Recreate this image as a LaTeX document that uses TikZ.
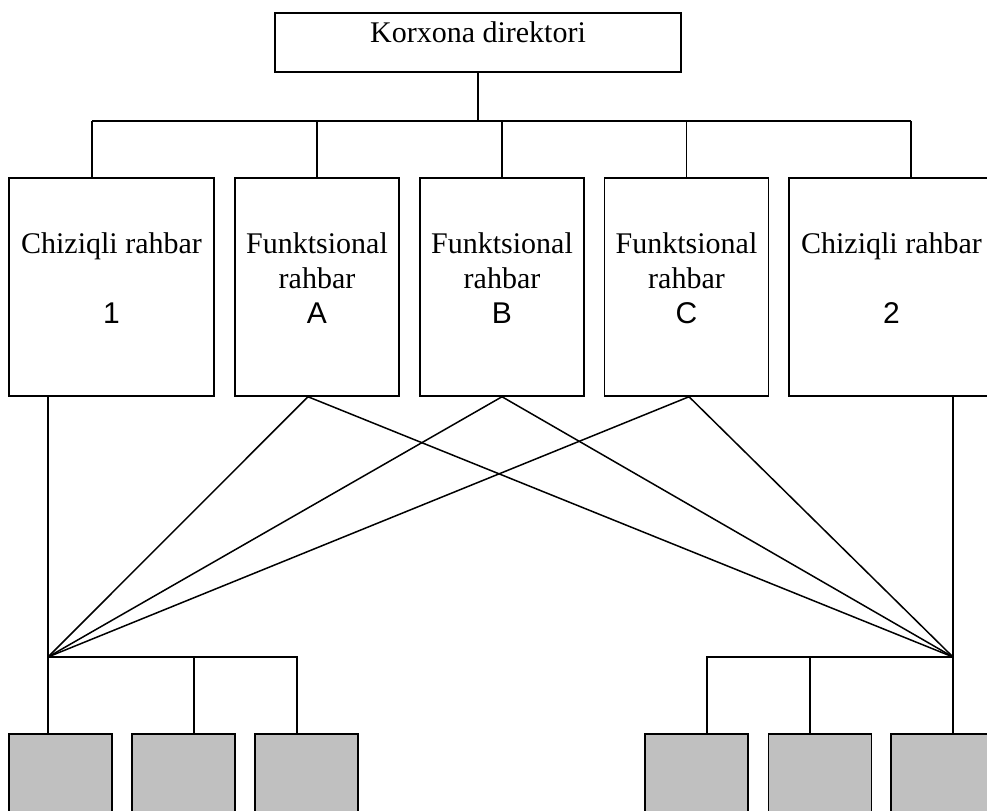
\documentclass[tikz,border=0pt]{standalone}
\usepackage{fontspec}
\setmainfont{Liberation Serif}
\newfontfamily\arialfont{Liberation Sans}
\definecolor{silver}{RGB}{192,192,192}

\begin{document}
\begin{tikzpicture}[x=0.4pt, y=-0.4pt, line width=0.6pt,
   box/.style={draw, rectangle, inner sep=0pt, align=center,
               font=\fontsize{12pt}{14pt}\selectfont},
   chief/.style={box, minimum width=162.4pt, minimum height=23.6pt, text depth=8pt},
   line/.style={box, minimum width=82pt, minimum height=87.2pt, text depth=7pt},
   func/.style={box, minimum width=65.6pt, minimum height=87.2pt, text depth=7pt},
   unit/.style={draw, fill=silver, inner sep=0pt, minimum width=41.2pt, minimum height=52.8pt}]

\useasboundingbox (0,0) rectangle (987,811);
\clip (0,0) rectangle (987,811);

% director
\node[chief] (top) at (478,42.5) {Korxona direktori};

% managers
\node[line] (l1) at (111.5,287) {Chiziqli rahbar\\[14pt]{\arialfont 1}};
\node[func] (fa) at (317,287)   {Funktsional\\rahbar\\{\arialfont A}};
\node[func] (fb) at (502,287)   {Funktsional\\rahbar\\{\arialfont B}};
\node[func] (fc) at (686.5,287) {Funktsional\\rahbar\\{\arialfont C}};
\node[line] (l2) at (891.5,287) {Chiziqli rahbar\\[14pt]{\arialfont 2}};

% units
\node[unit] (g1) at (60.5,800) {};
\node[unit] (g2) at (183.5,800) {};
\node[unit] (g3) at (306.5,800) {};
\node[unit] (g4) at (696.5,800) {};
\node[unit] (g5) at (820,800) {};
\node[unit] (g6) at (942.5,800) {};

\coordinate (busL) at (92,121);
\coordinate (busR) at (911,121);
\coordinate (jL) at (48,657);
\coordinate (jR) at (953,657);
\coordinate (mL) at (194,657);
\coordinate (kL) at (297,657);
\coordinate (kR) at (707,657);
\coordinate (mR) at (810,657);
\coordinate (fa-out) at ([xshift=-3.6pt]fa.south);
\coordinate (fc-out) at ([xshift=1pt]fc.south);

% top tree
\draw (top.south) -- (top.south |- busL);
\draw (busL) -- (busR);
\draw (busL) -- (busL |- l1.north);
\draw (busR) -- (busR |- l2.north);
\foreach \n in {fa,fb,fc}
   \draw (\n.north) -- (\n.north |- busL);

% functional links
\foreach \p in {fa-out,fb.south,fc-out}
   \draw (jL) -- (\p) -- (jR);

% line links
\draw (jL |- l1.south) -- (jL |- g1.north);
\draw (jR |- l2.south) -- (jR |- g6.north);
\draw (jL) -- (kL) -- (kL |- g3.north);
\draw (mL) -- (mL |- g2.north);
\draw (jR) -- (kR) -- (kR |- g4.north);
\draw (mR) -- (mR |- g5.north);

\end{tikzpicture}
\end{document}
